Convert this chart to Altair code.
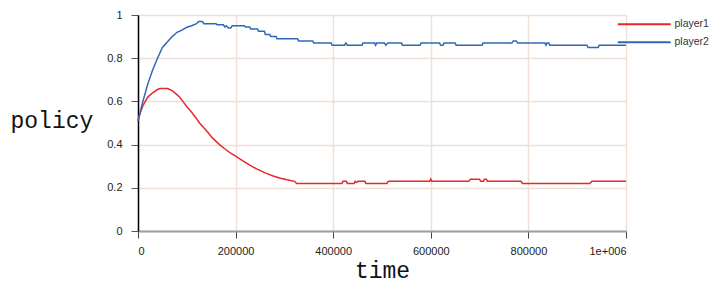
import altair as alt
import pandas as pd

# player1 (red) readings: time, policy
p1_time = [0, 5000, 10000, 20000, 30000, 40000, 45000, 60000, 65000, 70000, 78000, 85000,
           92000, 100000, 110000, 120000, 126000, 140000, 153000, 167000, 181000, 190000,
           201000, 215000, 229000, 245000, 263000, 277000, 290000, 305000, 321000, 325000,
           418000, 420000, 427000, 429000, 443000, 445000, 448000, 451000, 465000, 467000,
           510000, 513000, 598000, 600000, 602000, 678000, 681000, 700000, 702000, 708000,
           710000, 714000, 716000, 785000, 788000, 926000, 930000, 1000000]
p1_val = [0.51, 0.55, 0.58, 0.62, 0.64, 0.655, 0.66, 0.66, 0.655, 0.65, 0.635, 0.62,
          0.60, 0.575, 0.55, 0.52, 0.50, 0.465, 0.43, 0.40, 0.375, 0.36,
          0.345, 0.325, 0.305, 0.285, 0.267, 0.255, 0.245, 0.237, 0.23, 0.22,
          0.22, 0.23, 0.23, 0.22, 0.22, 0.23, 0.225, 0.23, 0.23, 0.22,
          0.22, 0.23, 0.23, 0.24, 0.23, 0.23, 0.24, 0.24, 0.23, 0.23,
          0.24, 0.24, 0.23, 0.23, 0.22, 0.22, 0.23, 0.23]

# player2 (blue) readings
p2_time = [0, 10000, 20000, 30000, 40000, 50000, 60000, 70000, 80000, 90000, 100000, 110000,
           120000, 124000, 132000, 135000, 160000, 162000, 175000, 178000, 181000, 185000,
           190000, 193000, 218000, 220000, 229000, 231000, 245000, 247000, 259000, 261000,
           270000, 272000, 283000, 285000, 327000, 329000, 358000, 360000, 396000, 398000,
           423000, 426000, 429000, 459000, 461000, 485000, 487000, 489000, 505000, 508000,
           512000, 540000, 542000, 578000, 580000, 618000, 620000, 625000, 627000, 650000,
           652000, 705000, 707000, 766000, 769000, 775000, 778000, 834000, 836000, 838000,
           842000, 844000, 920000, 922000, 943000, 945000, 1000000]
p2_val = [0.51, 0.60, 0.68, 0.745, 0.80, 0.85, 0.875, 0.90, 0.92, 0.93, 0.943, 0.95,
          0.96, 0.97, 0.97, 0.96, 0.96, 0.955, 0.955, 0.945, 0.95, 0.94,
          0.94, 0.95, 0.95, 0.945, 0.945, 0.935, 0.935, 0.925, 0.925, 0.91,
          0.91, 0.90, 0.90, 0.89, 0.89, 0.88, 0.88, 0.87, 0.87, 0.86,
          0.86, 0.87, 0.86, 0.86, 0.87, 0.87, 0.86, 0.87, 0.87, 0.86,
          0.87, 0.87, 0.86, 0.86, 0.87, 0.87, 0.86, 0.86, 0.87, 0.87,
          0.86, 0.86, 0.87, 0.87, 0.88, 0.88, 0.87, 0.87, 0.86, 0.87,
          0.87, 0.86, 0.86, 0.85, 0.85, 0.86, 0.86]

series = ["player1", "player2"]
colors = ["#e8262b", "#2f68b5"]
x_ticks = [0, 200000, 400000, 600000, 800000, 1000000]
y_ticks = [0, 0.2, 0.4, 0.6, 0.8, 1]

rows = []
for i, (t, v) in enumerate(zip(p1_time, p1_val)):
    rows.append({"time": t, "policy": v, "series": "player1", "order": i})
for i, (t, v) in enumerate(zip(p2_time, p2_val)):
    rows.append({"time": t, "policy": v, "series": "player2", "order": i})
df = pd.DataFrame(rows)

chart = alt.Chart(df).mark_line(strokeWidth=1.5).encode(
    x=alt.X("time:Q",
            scale=alt.Scale(domain=[0, 1000000], nice=False),
            axis=alt.Axis(values=x_ticks, title="time",
                          labelExpr="datum.value == 1000000 ? '1e+006' : format(datum.value, 'd')",
                          domainColor="#a09c9a", domainWidth=2,
                          tickColor="#444", tickSize=7, labelPadding=7,
                          titleY=46, titleBaseline="alphabetic")),
    y=alt.Y("policy:Q",
            scale=alt.Scale(domain=[0, 1], nice=False),
            axis=alt.Axis(values=y_ticks, title="policy", format="~g",
                          domainColor="#000", domainWidth=1.5,
                          tickColor="#555", tickSize=7, labelPadding=9,
                          titleAngle=0, titleAlign="left", titleBaseline="middle",
                          titleX=-128, titleY=105)),
    color=alt.Color("series:N",
                    scale=alt.Scale(domain=series, range=colors),
                    legend=alt.Legend(title=None, orient="none", legendX=501, legendY=4,
                                      symbolType="M-10,0H10", symbolSize=28,
                                      symbolStrokeWidth=2, labelOffset=25,
                                      labelFont="Liberation Sans", labelFontSize=10.5,
                                      labelColor="#333", rowPadding=7)),
    order="order:Q",
).properties(
    width=488, height=216,
    autosize=alt.AutoSizeParams(type="none"),
    padding={"left": 130, "top": 7, "right": 86, "bottom": 55},
).configure_axis(
    grid=True, gridColor="#eee0d6", gridWidth=1.5,
    labelFont="Liberation Sans", labelFontSize=11, labelColor="#222",
    titleFont="Liberation Mono", titleFontSize=23, titleFontWeight="normal", titleColor="#111",
).configure_view(stroke=None)

chart.save("out.html", embed_options={"renderer": "svg", "actions": False})
